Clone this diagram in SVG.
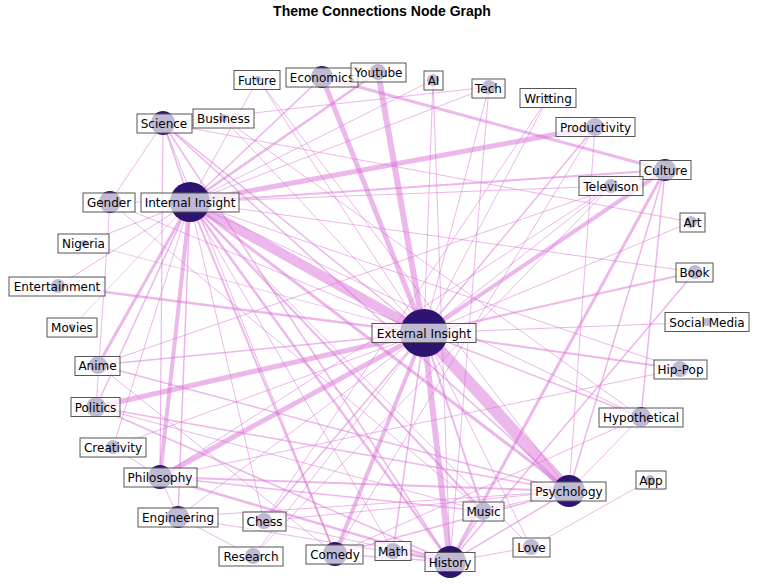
<svg xmlns="http://www.w3.org/2000/svg" width="762" height="584" viewBox="0 0 762 584">
<style>
.e{stroke:#da70d6;stroke-opacity:0.5;stroke-linecap:butt;fill:none}
.n{fill:#2d1470}
.b{fill:#ffffff;fill-opacity:0.7;stroke:#555555;stroke-width:1}
.t{font-family:"DejaVu Sans",sans-serif;font-size:12px;fill:#000;text-anchor:middle}
.title{font-family:"Liberation Sans",Arial,sans-serif;font-size:14px;font-weight:bold;text-anchor:middle;fill:#000}
</style>
<rect width="762" height="584" fill="#ffffff"/>
<text class="title" x="382" y="16">Theme Connections Node Graph</text>
<g id="connectors">
<line class="e" x1="190" y1="202" x2="424" y2="333" stroke-width="10"/>
<line class="e" x1="424" y1="333" x2="569" y2="491" stroke-width="12"/>
<line class="e" x1="424" y1="333" x2="450" y2="562" stroke-width="6"/>
<line class="e" x1="424" y1="333" x2="378" y2="72" stroke-width="6"/>
<line class="e" x1="424" y1="333" x2="322" y2="77" stroke-width="5"/>
<line class="e" x1="424" y1="333" x2="96" y2="407" stroke-width="5"/>
<line class="e" x1="424" y1="333" x2="160" y2="477" stroke-width="5"/>
<line class="e" x1="190" y1="202" x2="595" y2="127" stroke-width="5"/>
<line class="e" x1="424" y1="333" x2="665" y2="170" stroke-width="4"/>
<line class="e" x1="424" y1="333" x2="335" y2="554" stroke-width="4"/>
<line class="e" x1="190" y1="202" x2="160" y2="477" stroke-width="4"/>
<line class="e" x1="190" y1="202" x2="98" y2="365" stroke-width="3"/>
<line class="e" x1="190" y1="202" x2="569" y2="491" stroke-width="3"/>
<line class="e" x1="322" y1="77" x2="665" y2="170" stroke-width="3"/>
<line class="e" x1="665" y1="170" x2="450" y2="562" stroke-width="3"/>
<line class="e" x1="190" y1="202" x2="378" y2="72" stroke-width="2.5"/>
<line class="e" x1="424" y1="333" x2="58" y2="286" stroke-width="2.5"/>
<line class="e" x1="190" y1="202" x2="450" y2="562" stroke-width="2.5"/>
<line class="e" x1="424" y1="333" x2="680" y2="369" stroke-width="2"/>
<line class="e" x1="424" y1="333" x2="483" y2="511" stroke-width="2"/>
<line class="e" x1="424" y1="333" x2="695" y2="272" stroke-width="2"/>
<line class="e" x1="190" y1="202" x2="483" y2="511" stroke-width="2"/>
<line class="e" x1="190" y1="202" x2="335" y2="554" stroke-width="2"/>
<line class="e" x1="190" y1="202" x2="665" y2="170" stroke-width="2"/>
<line class="e" x1="160" y1="477" x2="569" y2="491" stroke-width="2"/>
<line class="e" x1="160" y1="477" x2="450" y2="562" stroke-width="2.5"/>
<line class="e" x1="96" y1="407" x2="569" y2="491" stroke-width="1.5"/>
<line class="e" x1="98" y1="365" x2="569" y2="491" stroke-width="1.5"/>
<line class="e" x1="163" y1="123" x2="569" y2="491" stroke-width="1.5"/>
<line class="e" x1="163" y1="123" x2="450" y2="562" stroke-width="1.5"/>
<line class="e" x1="163" y1="123" x2="424" y2="333" stroke-width="1.5"/>
<line class="e" x1="665" y1="170" x2="641" y2="417" stroke-width="1.5"/>
<line class="e" x1="665" y1="170" x2="569" y2="491" stroke-width="1.5"/>
<line class="e" x1="424" y1="333" x2="595" y2="127" stroke-width="1.5"/>
<line class="e" x1="424" y1="333" x2="393" y2="551" stroke-width="1.5"/>
<line class="e" x1="424" y1="333" x2="264" y2="521" stroke-width="1.5"/>
<line class="e" x1="424" y1="333" x2="98" y2="365" stroke-width="1.5"/>
<line class="e" x1="424" y1="333" x2="641" y2="417" stroke-width="1.5"/>
<line class="e" x1="190" y1="202" x2="322" y2="77" stroke-width="1.5"/>
<line class="e" x1="190" y1="202" x2="163" y2="123" stroke-width="1.5"/>
<line class="e" x1="190" y1="202" x2="178" y2="517" stroke-width="1.5"/>
<line class="e" x1="190" y1="202" x2="96" y2="407" stroke-width="1.5"/>
<line class="e" x1="450" y1="562" x2="393" y2="551" stroke-width="1.5"/>
<line class="e" x1="450" y1="562" x2="335" y2="554" stroke-width="1.5"/>
<line class="e" x1="450" y1="562" x2="96" y2="407" stroke-width="1.5"/>
<line class="e" x1="450" y1="562" x2="483" y2="511" stroke-width="1.5"/>
<line class="e" x1="450" y1="562" x2="569" y2="491" stroke-width="1.5"/>
<line class="e" x1="160" y1="477" x2="483" y2="511" stroke-width="1.5"/>
<line class="e" x1="163" y1="123" x2="160" y2="477" stroke-width="1.2"/>
<line class="e" x1="335" y1="554" x2="569" y2="491" stroke-width="1.5"/>
<line class="e" x1="569" y1="491" x2="641" y2="417" stroke-width="1"/>
<line class="e" x1="424" y1="333" x2="707" y2="322" stroke-width="1"/>
<line class="e" x1="424" y1="333" x2="531" y2="547" stroke-width="1"/>
<line class="e" x1="424" y1="333" x2="253" y2="556" stroke-width="1"/>
<line class="e" x1="424" y1="333" x2="178" y2="517" stroke-width="1"/>
<line class="e" x1="424" y1="333" x2="113" y2="447" stroke-width="1"/>
<line class="e" x1="424" y1="333" x2="258" y2="79" stroke-width="1"/>
<line class="e" x1="424" y1="333" x2="223" y2="118" stroke-width="1"/>
<line class="e" x1="424" y1="333" x2="433" y2="80" stroke-width="1"/>
<line class="e" x1="424" y1="333" x2="489" y2="87" stroke-width="1"/>
<line class="e" x1="424" y1="333" x2="548" y2="98" stroke-width="1"/>
<line class="e" x1="424" y1="333" x2="611" y2="186" stroke-width="1"/>
<line class="e" x1="424" y1="333" x2="691" y2="222" stroke-width="1"/>
<line class="e" x1="424" y1="333" x2="110" y2="202" stroke-width="1"/>
<line class="e" x1="190" y1="202" x2="264" y2="521" stroke-width="1"/>
<line class="e" x1="190" y1="202" x2="695" y2="272" stroke-width="1"/>
<line class="e" x1="190" y1="202" x2="641" y2="417" stroke-width="1"/>
<line class="e" x1="190" y1="202" x2="680" y2="369" stroke-width="1"/>
<line class="e" x1="190" y1="202" x2="393" y2="551" stroke-width="1"/>
<line class="e" x1="190" y1="202" x2="531" y2="547" stroke-width="1"/>
<line class="e" x1="190" y1="202" x2="611" y2="186" stroke-width="1"/>
<line class="e" x1="190" y1="202" x2="489" y2="87" stroke-width="1"/>
<line class="e" x1="190" y1="202" x2="58" y2="286" stroke-width="1"/>
<line class="e" x1="190" y1="202" x2="84" y2="243" stroke-width="1"/>
<line class="e" x1="190" y1="202" x2="113" y2="447" stroke-width="1"/>
<line class="e" x1="190" y1="202" x2="110" y2="202" stroke-width="1"/>
<line class="e" x1="190" y1="202" x2="258" y2="79" stroke-width="1"/>
<line class="e" x1="190" y1="202" x2="433" y2="80" stroke-width="1"/>
<line class="e" x1="163" y1="123" x2="489" y2="87" stroke-width="1"/>
<line class="e" x1="163" y1="123" x2="110" y2="202" stroke-width="1"/>
<line class="e" x1="163" y1="123" x2="335" y2="554" stroke-width="1"/>
<line class="e" x1="163" y1="123" x2="691" y2="222" stroke-width="1"/>
<line class="e" x1="223" y1="118" x2="641" y2="417" stroke-width="1"/>
<line class="e" x1="258" y1="79" x2="569" y2="491" stroke-width="1"/>
<line class="e" x1="433" y1="80" x2="450" y2="562" stroke-width="1"/>
<line class="e" x1="489" y1="87" x2="450" y2="562" stroke-width="1"/>
<line class="e" x1="548" y1="98" x2="264" y2="521" stroke-width="1"/>
<line class="e" x1="595" y1="127" x2="335" y2="554" stroke-width="1"/>
<line class="e" x1="595" y1="127" x2="569" y2="491" stroke-width="1"/>
<line class="e" x1="611" y1="186" x2="160" y2="477" stroke-width="1"/>
<line class="e" x1="665" y1="170" x2="98" y2="365" stroke-width="1"/>
<line class="e" x1="611" y1="186" x2="253" y2="556" stroke-width="1"/>
<line class="e" x1="695" y1="272" x2="450" y2="562" stroke-width="1.5"/>
<line class="e" x1="680" y1="369" x2="160" y2="477" stroke-width="1"/>
<line class="e" x1="641" y1="417" x2="335" y2="554" stroke-width="1"/>
<line class="e" x1="650" y1="480" x2="531" y2="547" stroke-width="1"/>
<line class="e" x1="531" y1="547" x2="450" y2="562" stroke-width="1"/>
<line class="e" x1="483" y1="511" x2="569" y2="491" stroke-width="1"/>
<line class="e" x1="483" y1="511" x2="96" y2="407" stroke-width="1"/>
<line class="e" x1="178" y1="517" x2="450" y2="562" stroke-width="1"/>
<line class="e" x1="178" y1="517" x2="569" y2="491" stroke-width="1"/>
<line class="e" x1="178" y1="517" x2="160" y2="477" stroke-width="1"/>
<line class="e" x1="178" y1="517" x2="253" y2="556" stroke-width="1"/>
<line class="e" x1="264" y1="521" x2="450" y2="562" stroke-width="1"/>
<line class="e" x1="264" y1="521" x2="569" y2="491" stroke-width="1"/>
<line class="e" x1="113" y1="447" x2="160" y2="477" stroke-width="1"/>
<line class="e" x1="98" y1="365" x2="335" y2="554" stroke-width="1"/>
<line class="e" x1="110" y1="202" x2="96" y2="407" stroke-width="1"/>
<line class="e" x1="110" y1="202" x2="483" y2="511" stroke-width="1"/>
<line class="e" x1="72" y1="327" x2="190" y2="202" stroke-width="0.8"/>
<line class="e" x1="84" y1="243" x2="424" y2="333" stroke-width="0.8"/>
</g>
<g id="node-external-insight"><circle class="n" cx="424" cy="333" r="24"/><rect class="b" x="372" y="323.5" width="104" height="19"/><text class="t" x="424" y="337.5">External Insight</text></g>
<g id="node-internal-insight"><circle class="n" cx="190" cy="202" r="20"/><rect class="b" x="141" y="193" width="98" height="19"/><text class="t" x="190" y="207">Internal Insight</text></g>
<g id="node-psychology"><circle class="n" cx="569" cy="491" r="16"/><rect class="b" x="531" y="482" width="75" height="19"/><text class="t" x="569" y="496">Psychology</text></g>
<g id="node-history"><circle class="n" cx="450" cy="562" r="16"/><rect class="b" x="425" y="552.5" width="50" height="19"/><text class="t" x="450" y="566.5">History</text></g>
<g id="node-comedy"><circle class="n" cx="335" cy="554" r="12"/><rect class="b" x="306" y="545" width="57" height="19"/><text class="t" x="335" y="559">Comedy</text></g>
<g id="node-philosophy"><circle class="n" cx="160" cy="477" r="12"/><rect class="b" x="124" y="468" width="73" height="19"/><text class="t" x="160" y="482">Philosophy</text></g>
<g id="node-science"><circle class="n" cx="163" cy="123" r="12"/><rect class="b" x="137" y="114" width="55" height="19"/><text class="t" x="164" y="128">Science</text></g>
<g id="node-culture"><circle class="n" cx="665" cy="170" r="11"/><rect class="b" x="640" y="160.5" width="51" height="19"/><text class="t" x="665.5" y="174.5">Culture</text></g>
<g id="node-economics"><circle class="n" cx="322" cy="77" r="11"/><rect class="b" x="286" y="68" width="72" height="19"/><text class="t" x="322" y="82">Economics</text></g>
<g id="node-gender"><circle class="n" cx="110" cy="202" r="11"/><rect class="b" x="83" y="193" width="52" height="19"/><text class="t" x="109" y="207">Gender</text></g>
<g id="node-engineering"><circle class="n" cx="178" cy="517" r="11"/><rect class="b" x="138" y="508" width="80" height="19"/><text class="t" x="178" y="522">Engineering</text></g>
<g id="node-politics"><circle class="n" cx="96" cy="407" r="10"/><rect class="b" x="71" y="397.5" width="49" height="19"/><text class="t" x="95.5" y="411.5">Politics</text></g>
<g id="node-hypothetical"><circle class="n" cx="641" cy="417" r="10"/><rect class="b" x="599" y="408" width="84" height="19"/><text class="t" x="641" y="422">Hypothetical</text></g>
<g id="node-productivity"><circle class="n" cx="595" cy="127" r="9"/><rect class="b" x="556" y="117.5" width="79" height="19"/><text class="t" x="595.5" y="131.5">Productivity</text></g>
<g id="node-music"><circle class="n" cx="483" cy="511" r="9"/><rect class="b" x="463" y="502" width="41" height="19"/><text class="t" x="483.5" y="516">Music</text></g>
<g id="node-anime"><circle class="n" cx="98" cy="365" r="9"/><rect class="b" x="75" y="356.5" width="45" height="19"/><text class="t" x="97.5" y="370">Anime</text></g>
<g id="node-youtube"><circle class="n" cx="378" cy="72" r="8"/><rect class="b" x="351" y="63" width="55" height="19"/><text class="t" x="378.5" y="77">Youtube</text></g>
<g id="node-chess"><circle class="n" cx="264" cy="521" r="8"/><rect class="b" x="243" y="512" width="43" height="19"/><text class="t" x="264.5" y="526">Chess</text></g>
<g id="node-research"><circle class="n" cx="253" cy="556" r="8"/><rect class="b" x="219" y="547" width="64" height="19"/><text class="t" x="251" y="561">Research</text></g>
<g id="node-math"><circle class="n" cx="393" cy="551" r="8"/><rect class="b" x="375" y="541.5" width="36" height="19"/><text class="t" x="393" y="555.5">Math</text></g>
<g id="node-love"><circle class="n" cx="531" cy="547" r="8"/><rect class="b" x="513" y="538" width="37" height="19"/><text class="t" x="531.5" y="552">Love</text></g>
<g id="node-hip-pop"><circle class="n" cx="680" cy="369" r="8"/><rect class="b" x="654" y="360" width="53" height="19"/><text class="t" x="680.5" y="374">Hip-Pop</text></g>
<g id="node-televison"><circle class="n" cx="611" cy="186" r="7"/><rect class="b" x="579" y="176.5" width="64" height="19"/><text class="t" x="611" y="190.5">Televison</text></g>
<g id="node-book"><circle class="n" cx="695" cy="272" r="7"/><rect class="b" x="676" y="263" width="37" height="19"/><text class="t" x="694.5" y="277">Book</text></g>
<g id="node-tech"><circle class="n" cx="489" cy="87" r="7"/><rect class="b" x="472" y="79" width="33" height="19"/><text class="t" x="488.5" y="92.5">Tech</text></g>
<g id="node-entertainment"><circle class="n" cx="58" cy="286" r="7"/><rect class="b" x="9" y="277" width="96" height="19"/><text class="t" x="57" y="291">Entertainment</text></g>
<g id="node-creativity"><circle class="n" cx="113" cy="447" r="7"/><rect class="b" x="80" y="438" width="66" height="19"/><text class="t" x="113" y="452">Creativity</text></g>
<g id="node-ai"><circle class="n" cx="433" cy="80" r="6"/><rect class="b" x="424" y="71" width="19" height="19"/><text class="t" x="433.5" y="85">AI</text></g>
<g id="node-art"><circle class="n" cx="691" cy="222" r="6"/><rect class="b" x="680" y="213" width="25" height="19"/><text class="t" x="692.5" y="227">Art</text></g>
<g id="node-app"><circle class="n" cx="650" cy="480" r="5"/><rect class="b" x="636" y="471" width="30" height="18"/><text class="t" x="651" y="484.5">App</text></g>
<g id="node-social-media"><circle class="n" cx="707" cy="322" r="4"/><rect class="b" x="665" y="312.5" width="84" height="19"/><text class="t" x="707" y="326.5">Social Media</text></g>
<g id="node-business"><circle class="n" cx="223" cy="118" r="4"/><rect class="b" x="193" y="109" width="61" height="19"/><text class="t" x="223.5" y="123">Business</text></g>
<g id="node-future"><circle class="n" cx="258" cy="79" r="3"/><rect class="b" x="234" y="70.5" width="46" height="19"/><text class="t" x="257" y="84.5">Future</text></g>
<g id="node-writting"><circle class="n" cx="548" cy="98" r="3"/><rect class="b" x="520" y="88.5" width="56" height="19"/><text class="t" x="548" y="102.5">Writting</text></g>
<g id="node-nigeria"><circle class="n" cx="84" cy="243" r="3"/><rect class="b" x="58" y="234" width="51" height="19"/><text class="t" x="83.5" y="248">Nigeria</text></g>
<g id="node-movies"><circle class="n" cx="72" cy="327" r="3"/><rect class="b" x="47" y="318" width="50" height="19"/><text class="t" x="72" y="332">Movies</text></g>
</svg>
